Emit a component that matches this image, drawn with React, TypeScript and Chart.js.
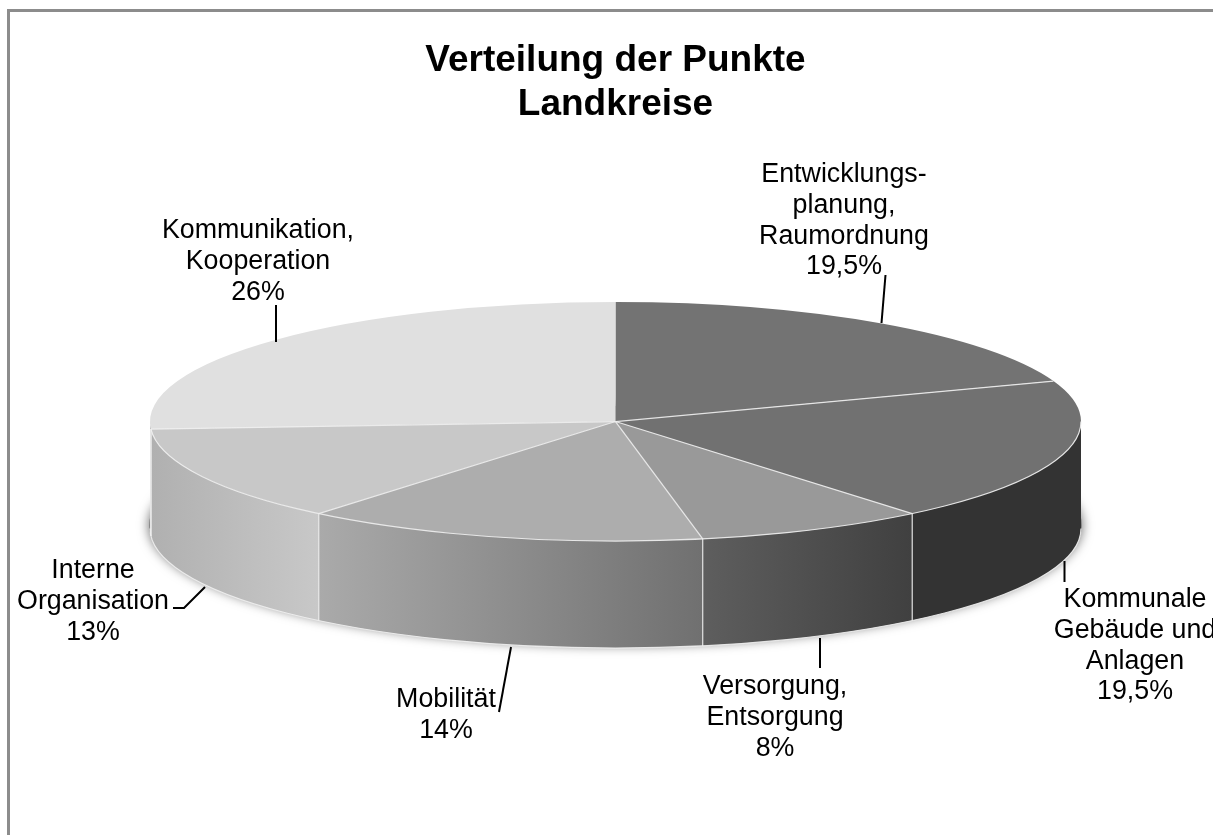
import React, { useEffect, useRef } from "react";
import { Chart, registerables } from "chart.js";

Chart.register(...registerables);

const categories: string[][] = [
  ["Entwicklungs-", "planung,", "Raumordnung"],
  ["Kommunale", "Gebäude und", "Anlagen"],
  ["Versorgung,", "Entsorgung"],
  ["Mobilität"],
  ["Interne", "Organisation"],
  ["Kommunikation,", "Kooperation"],
];
const values: number[] = [19.5, 19.5, 8, 14, 13, 26];
const valueLabels: string[] = ["19,5%", "19,5%", "8%", "14%", "13%", "26%"];
const titleLines: string[] = ["Verteilung der Punkte", "Landkreise"];

const topColors = ["#737373", "#717171", "#999999", "#adadad", "#c8c8c8", "#e0e0e0"];
const wallFrom = ["#333333", "#333333", "#404040", "#707070", "#c8c8c8", "#b0b0b0"];
const wallTo = ["#333333", "#333333", "#5e5e5e", "#aaaaaa", "#b0b0b0", "#b0b0b0"];

const RX = 465.5;
const RY = 119.5;
const DEPTH = 107;
const FONT = '"Liberation Sans", Arial, sans-serif';
const LABEL_SIZE = 26.8;
const LINE_H = 30.7;

const labelAnchors = [
  { x: 844, y: 175 },
  { x: 1135, y: 600 },
  { x: 775, y: 687 },
  { x: 446, y: 700 },
  { x: 93, y: 571 },
  { x: 258, y: 231 },
];
const leaders: number[][][] = [
  [[885.5, 275], [881.5, 323]],
  [[1064.5, 561], [1064.5, 582]],
  [[820, 638], [820, 668]],
  [[511, 647], [499, 712]],
  [[205, 587], [184, 608], [173, 608]],
  [[276, 305], [276, 342]],
];

const pie3d = {
  id: "pie3d",
  beforeDatasetsDraw(chart: any) {
    const ctx: CanvasRenderingContext2D = chart.ctx;
    const arcs = chart.getDatasetMeta(0).data;
    const cx = arcs[0].x;
    const cy = arcs[0].y;
    const R = arcs[0].outerRadius;
    const ry = RY;
    const px = (a: number) => cx + R * Math.cos(a);
    const py = (a: number) => cy + ry * Math.sin(a);

    // ground shadow
    ctx.save();
    ctx.shadowColor = "rgba(0,0,0,0.6)";
    ctx.shadowBlur = 12;
    ctx.fillStyle = "#888";
    ctx.beginPath();
    ctx.ellipse(cx, cy + DEPTH - 3, R + 1, ry, 0, 0, Math.PI * 2);
    ctx.fill();
    ctx.restore();

    // walls
    arcs.forEach((arc: any, i: number) => {
      const s = Math.max(arc.startAngle, 0);
      const e = Math.min(arc.endAngle, Math.PI);
      if (e <= s) return;
      const g = ctx.createLinearGradient(px(s), 0, px(e), 0);
      g.addColorStop(0, wallFrom[i]);
      g.addColorStop(1, wallTo[i]);
      ctx.fillStyle = g;
      ctx.beginPath();
      ctx.ellipse(cx, cy, R, ry, 0, s, e);
      ctx.lineTo(px(e), py(e) + DEPTH);
      ctx.ellipse(cx, cy + DEPTH, R, ry, 0, e, s, true);
      ctx.closePath();
      ctx.fill();
    });

    ctx.save();
    ctx.translate(cx, cy);
    ctx.scale(1, ry / R);
    ctx.translate(-cx, -cy);
  },
  afterDatasetsDraw(chart: any) {
    const ctx: CanvasRenderingContext2D = chart.ctx;
    ctx.restore();
    const arcs = chart.getDatasetMeta(0).data;
    const cx = arcs[0].x;
    const cy = arcs[0].y;
    const R = arcs[0].outerRadius;
    const ry = RY;
    const px = (a: number) => cx + R * Math.cos(a);
    const py = (a: number) => cy + ry * Math.sin(a);

    // light edges
    ctx.save();
    ctx.strokeStyle = "rgba(240,240,240,0.9)";
    ctx.lineWidth = 1.2;
    arcs.forEach((arc: any, i: number) => {
      if (i === 0) return;
      const a = arc.startAngle;
      ctx.beginPath();
      ctx.moveTo(cx, cy);
      ctx.lineTo(px(a), py(a));
      ctx.stroke();
      if (a > 0 && a < Math.PI) {
        ctx.beginPath();
        ctx.moveTo(px(a), py(a));
        ctx.lineTo(px(a), py(a) + DEPTH);
        ctx.stroke();
      }
    });
    const last = arcs[5].startAngle;
    ctx.beginPath();
    ctx.ellipse(cx, cy, R, ry, 0, 0, last);
    ctx.stroke();
    ctx.beginPath();
    ctx.ellipse(cx, cy + DEPTH, R, ry, 0, 0, Math.PI);
    ctx.stroke();
    ctx.beginPath();
    ctx.moveTo(px(last), py(last));
    ctx.lineTo(px(last), py(last) + DEPTH);
    ctx.stroke();
    ctx.restore();

    // leader lines
    ctx.save();
    ctx.strokeStyle = "#000";
    ctx.lineWidth = 2;
    leaders.forEach((pts) => {
      ctx.beginPath();
      pts.forEach(([x, y], k) => (k ? ctx.lineTo(x, y) : ctx.moveTo(x, y)));
      ctx.stroke();
    });
    ctx.restore();

    // labels
    ctx.save();
    ctx.fillStyle = "#000";
    ctx.font = `${LABEL_SIZE}px ${FONT}`;
    ctx.textAlign = "center";
    ctx.textBaseline = "middle";
    categories.forEach((lines, i) => {
      const all = [...lines, valueLabels[i]];
      all.forEach((t, k) => ctx.fillText(t, labelAnchors[i].x, labelAnchors[i].y + k * LINE_H));
    });
    ctx.restore();
  },
};

export default function App() {
  const ref = useRef<HTMLCanvasElement | null>(null);
  useEffect(() => {
    document.body.style.margin = "0";
    document.body.style.background = "#fff";
    const chart = new Chart(ref.current as HTMLCanvasElement, {
      type: "pie",
      data: {
        labels: categories.map((c) => c.join(" ")),
        datasets: [
          {
            data: values,
            backgroundColor: topColors,
            borderWidth: 0,
            clip: false,
          } as any,
        ],
      },
      options: {
        responsive: false,
        animation: false,
        radius: RX,
        layout: { padding: { left: 18, top: 8, right: 0, bottom: 119 } },
        plugins: {
          legend: { display: false },
          tooltip: { enabled: false },
          title: {
            display: true,
            text: titleLines,
            color: "#000",
            font: { family: FONT, size: 37, weight: "bold", lineHeight: 1.19 },
            padding: { top: 31, bottom: 0 },
          },
        },
      } as any,
      plugins: [pie3d],
    });
    return () => chart.destroy();
  }, []);
  return (
    <div style={{ position: "fixed", left: 0, top: 0, width: 1213, height: 835, background: "#fff", overflow: "hidden" }}>
      <div style={{ position: "absolute", left: 7, top: 9, width: 1300, height: 900, borderLeft: "3px solid #8c8c8c", borderTop: "3px solid #8c8c8c" }} />
      <canvas ref={ref} width={1213} height={835} style={{ position: "absolute", left: 0, top: 0, display: "block" }} />
    </div>
  );
}
